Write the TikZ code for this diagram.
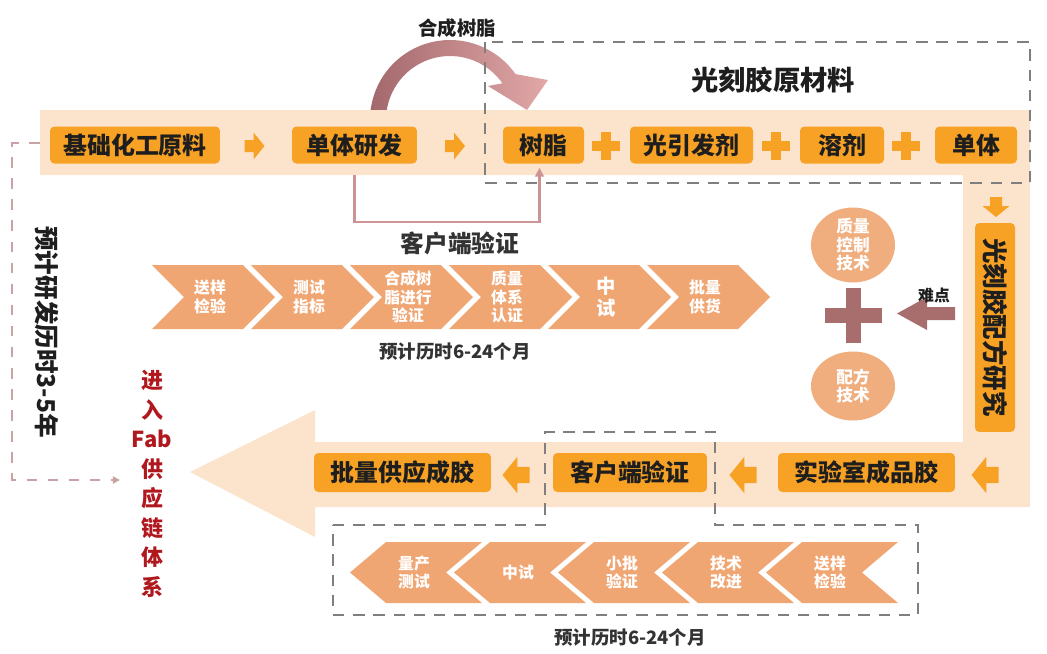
\documentclass[tikz,border=0pt]{standalone}
\usepackage{fontspec}
\setmainfont{Noto Sans CJK SC}
\usetikzlibrary{arrows.meta,calc,shapes.geometric}
\definecolor{bandc}{HTML}{FCE4CC}
\definecolor{boxc}{HTML}{F7A125}
\definecolor{chevc}{HTML}{F0A673}
\definecolor{circc}{HTML}{F0AD7E}
\definecolor{mauve}{HTML}{A86E6E}
\definecolor{dgray}{HTML}{7F7F7F}
\definecolor{pinkd}{HTML}{C9A2A6}
\definecolor{loopc}{HTML}{CC9494}
\definecolor{redt}{HTML}{B0181E}
\definecolor{txt}{HTML}{1E1E1E}
\definecolor{arcL}{HTML}{A2686C}
\definecolor{arcR}{HTML}{E2A8A8}
\definecolor{lbl}{HTML}{333333}
\newcommand\topchev[4][]{%
  \fill[chevc] (#2,265) -- ++(91,0) -- ++(32,32) -- ++(-32,32) -- ++(-91,0) -- ++(32,-32) -- cycle;
  \node[chevtxt,#1] (#3) at ({#2+58},297) {#4};}
\newcommand\botchev[3]{%
  \fill[chevc] (#1,572.5) -- ++(36,-30.5) -- ++(96,0) -- ++(-36,30.5) -- ++(36,30.5) -- ++(-96,0) -- cycle;
  \node[chevtxt] (#2) at ({#1+64},572.5) {#3};}
\begin{document}
\begin{tikzpicture}[x=0.02cm,y=-0.02cm,
  obox/.style={fill=boxc, rounded corners=2.5pt, inner sep=0pt, minimum height=0.74cm,
    text=txt, font=\bfseries\fontsize{13.6}{16}\selectfont},
  chevtxt/.style={text=white, align=center, inner sep=0pt, font=\bfseries\fontsize{9}{10.5}\selectfont},
  circ/.style={ellipse, fill=circc, minimum width=1.68cm, minimum height=1.38cm, inner sep=0pt,
    text=white, align=center, font=\bfseries\fontsize{9.5}{10.5}\selectfont},
  gdash/.style={draw=dgray, line width=1.3pt, dash pattern=on 6.5pt off 5pt},
  pdash/.style={draw=pinkd, line width=1.2pt, dash pattern=on 6pt off 6pt},
  loopline/.style={draw=loopc, line width=1.2pt},
  rarr/.pic={\fill[boxc] (-10,-6) -- (-1,-6) -- (-1,-13.5) -- (10,0) -- (-1,13.5) -- (-1,6) -- (-10,6) -- cycle;},
  oplus/.pic={\fill[boxc] (-14,-5) rectangle (14,5); \fill[boxc] (-5,-14) rectangle (5,14);}
]
\useasboundingbox (0,0) rectangle (1047,653);
% curved arrow
\shade[left color=arcL, right color=arcR]
  plot[domain=180:325,samples=40] ({450+80*cos(\x)},{120+80*sin(\x)})
  -- (548,80) -- (527,110) -- (488,86)
  -- plot[domain=325:180,samples=40] ({450+64*cos(\x)},{120+64*sin(\x)}) -- cycle;
% band
\fill[bandc] (40,110) -- (1030,110) -- (1030,507) -- (315,507) -- (315,537) -- (190,472)
  -- (315,410) -- (315,442) -- (963,442) -- (963,175) -- (40,175) -- cycle;
% dashed frames
\draw[gdash] (485,42) rectangle (1030,183);
\draw[gdash] (333,525) -- (545,525) -- (545,432) -- (715,432) -- (715,525) -- (918,525)
  -- (918,615) -- (333,615) -- cycle;
% labels
\node[font=\bfseries\fontsize{11}{13}\selectfont, text=txt] (synlbl) at (457,28) {合成树脂};
\node[font=\bfseries\fontsize{15.5}{18}\selectfont, text=txt] (rawlbl) at (773,80) {光刻胶原材料};
% top row
\node[obox, minimum width=3.4cm] (base) at (135,145) {基础化工原料};
\node[obox, minimum width=2.5cm] (dev) at (354.5,145) {单体研发};
\node[obox, minimum width=1.62cm] (resin) at (543.5,145) {树脂};
\node[obox, minimum width=2.46cm] (photo) at (691.5,145) {光引发剂};
\node[obox, minimum width=1.68cm] (solv) at (842,145) {溶剂};
\node[obox, minimum width=1.64cm] (mono) at (976,145) {单体};
\pic at (254.5,146) {rarr};
\pic at (455,146) {rarr};
\pic at (606,146) {oplus};
\pic at (776,146) {oplus};
\pic at (906,146) {oplus};
% customer loop
\coordinate (bandbot) at (0,175);
\draw[loopline,-{Triangle[length=5pt,width=5pt]}] (dev.south |- bandbot) -- ++(0,47) -| ([shift={(-4,4)}]resin.south);
\node[font=\bfseries\fontsize{13.5}{16}\selectfont, text=lbl] (custlbl) at (460,243) {客户端验证};
% top chevrons
\topchev{152}{c1}{送样\\检验}
\topchev{251}{c2}{测试\\指标}
\topchev{350}{c3}{合成树\\脂进行\\验证}
\topchev{449}{c4}{质量\\体系\\认证}
\topchev[font=\bfseries\fontsize{11}{13}\selectfont]{548}{c5}{中\\试}
\topchev{647}{c6}{批量\\供货}
\node[font=\bfseries\fontsize{10.5}{12}\selectfont, text=lbl] (dur1) at (455,352) {预计历时6-24个月};
% right vertical
\pic[rotate=-90] at (996,207) {rarr};
\node[obox, rotate=-90, minimum width=4.18cm, minimum height=0.8cm, font=\bfseries\fontsize{14.5}{16}\selectfont] (form) at (995,327.5) {光刻胶配方研究};
% circles and plus
\node[circ] (qc) at (853,245) {质量\\控制\\技术};
\node[circ] (ft) at (853,386) {配方\\技术};
\fill[mauve] (825,307.5) rectangle (882,322.5);
\fill[mauve] (845.5,288) rectangle (860.5,343);
\fill[mauve] (897,313.5) -- (927,297) -- (927,307) -- (955,307) -- (955,320) -- (927,320) -- (927,330) -- cycle;
\node[font=\bfseries\fontsize{9}{11}\selectfont, text=txt] (diff) at (934,295) {难点};
% bottom row
\node[obox, minimum width=3.54cm, minimum height=0.78cm] (batch) at (402.5,472.5) {批量供应成胶};
\node[obox, minimum width=3.08cm, minimum height=0.78cm] (cust) at (630,472.5) {客户端验证};
\node[obox, minimum width=3.54cm, minimum height=0.78cm] (lab) at (866.5,472.5) {实验室成品胶};
\pic[rotate=180, scale=1.35] at (985,475) {rarr};
\pic[rotate=180, scale=1.35] at (743,475) {rarr};
\pic[rotate=180, scale=1.35] at (516,475) {rarr};
% bottom chevrons
\botchev{350}{b1}{量产\\测试}
\botchev{454}{b2}{中试}
\botchev{558}{b3}{小批\\验证}
\botchev{662}{b4}{技术\\改进}
\botchev{766}{b5}{送样\\检验}
\node[font=\bfseries\fontsize{10.5}{12}\selectfont, text=lbl] (dur2) at (630,638) {预计历时6-24个月};
% left side
\node[rotate=-90, font=\bfseries\fontsize{14}{16}\selectfont, text=txt] (rd) at (47,332) {预计研发历时3-5年};
\node[align=center, text=redt, font=\bfseries\fontsize{12.5}{16.8}\selectfont] (fab) at (152,484) {进\\入\\Fab\\供\\应\\链\\体\\系};
\coordinate (lA) at (40,143);
\coordinate (lB) at (120,480);
\draw[pdash,-{Triangle[length=4pt,width=4pt]}] (lA) -- (12,143) |- (lB);
\end{tikzpicture}
\end{document}
